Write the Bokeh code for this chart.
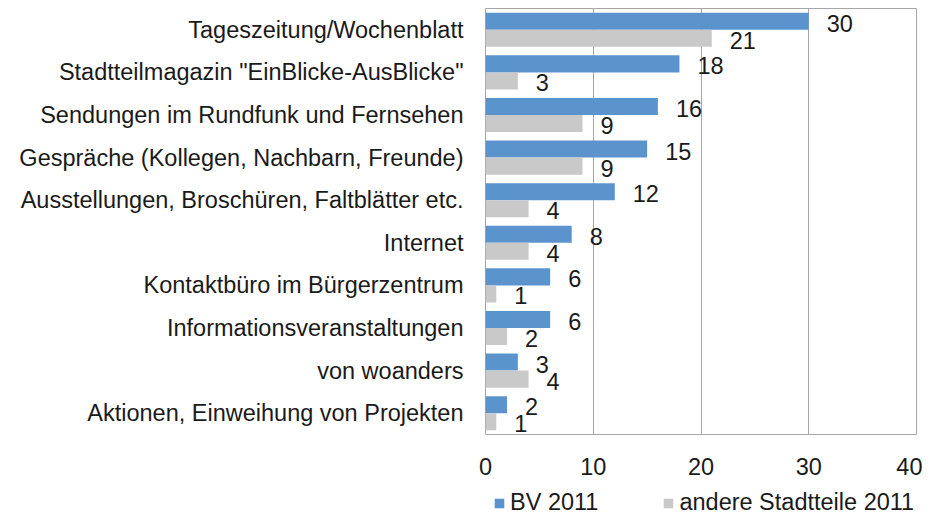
from bokeh.plotting import figure
from bokeh.layouts import column
from bokeh.models import FactorRange, Range1d, Legend, LegendItem, ColumnDataSource, FixedTicker
from bokeh.transform import dodge
from bokeh.embed import file_html
from bokeh.resources import INLINE
from bokeh.core.properties import value

categories = [
    "Tageszeitung/Wochenblatt",
    "Stadtteilmagazin \"EinBlicke-AusBlicke\"",
    "Sendungen im Rundfunk und Fernsehen",
    "Gespräche (Kollegen, Nachbarn, Freunde)",
    "Ausstellungen, Broschüren, Faltblätter etc.",
    "Internet",
    "Kontaktbüro im Bürgerzentrum",
    "Informationsveranstaltungen",
    "von woanders",
    "Aktionen, Einweihung von Projekten",
]
bv_2011 = [30, 18, 16, 15, 12, 8, 6, 6, 3, 2]
andere_2011 = [21, 3, 9, 9, 4, 4, 1, 2, 4, 1]
x_ticks = [0, 10, 20, 30, 40]
series_names = ["BV 2011", "andere Stadtteile 2011"]

BLUE = "#5B94CC"
GRAY = "#C9C9C9"
GRID = "#A6A6A6"
TEXT = "#1a1a1a"
FONT = "Liberation Sans"
FS = "23.5px"

src = ColumnDataSource(dict(
    cat=categories,
    bv=bv_2011,
    andere=andere_2011,
    bv_lbl=[str(v) for v in bv_2011],
    an_lbl=[str(v) for v in andere_2011],
))

p = figure(
    width=922, height=488,
    y_range=FactorRange(factors=categories[::-1]),
    x_range=Range1d(0, 40),
    output_backend="svg", toolbar_location=None,
    min_border_left=485, min_border_right=6, min_border_top=8, min_border_bottom=54,
)

r1 = p.hbar(y=dodge("cat", 0.2, range=p.y_range), left=0, right="bv", height=0.4,
            source=src, fill_color=BLUE, line_color=None)
r2 = p.hbar(y=dodge("cat", -0.2, range=p.y_range), left=0, right="andere", height=0.4,
            source=src, fill_color=GRAY, line_color=None)

p.text(x="bv", y=dodge("cat", 0.2, range=p.y_range), text="bv_lbl", source=src,
       x_offset=18, y_offset=2, text_align="left", text_baseline="middle",
       text_font_size=FS, text_color=TEXT, text_font=value(FONT))
p.text(x="andere", y=dodge("cat", -0.2, range=p.y_range), text="an_lbl", source=src,
       x_offset=18, y_offset=2, text_align="left", text_baseline="middle",
       text_font_size=FS, text_color=TEXT, text_font=value(FONT))

p.outline_line_color = GRID
p.outline_line_width = 1
p.ygrid.grid_line_color = None
p.xgrid.grid_line_color = GRID
p.xgrid.grid_line_width = 1
p.xaxis.ticker = FixedTicker(ticks=x_ticks)

for ax in (p.xaxis[0], p.yaxis[0]):
    ax.axis_line_color = None
    ax.major_tick_line_color = None
    ax.minor_tick_line_color = None
    ax.major_tick_in = 0
    ax.major_tick_out = 0
    ax.minor_tick_in = 0
    ax.minor_tick_out = 0
    ax.major_label_text_font = FONT
    ax.major_label_text_font_size = FS
    ax.major_label_text_color = TEXT

p.yaxis.major_label_standoff = 22
p.xaxis.major_label_standoff = 23

# separate strip for the legend below the chart (its frame aligns with the chart frame)
lf = figure(
    width=922, height=28,
    x_range=Range1d(0, 1), y_range=Range1d(0, 1),
    x_axis_type=None, y_axis_type=None,
    output_backend="svg", toolbar_location=None,
    min_border=0, outline_line_color=None,
)
lf.xgrid.visible = False
lf.ygrid.visible = False
# legend proxies: one zero-width bar each, so the swatch has a row to draw from
proxy = ColumnDataSource(dict(y=[0.5], right=[0]))
k1 = lf.hbar(y="y", left=0, right="right", height=0.4, source=proxy,
             fill_color=BLUE, line_color=None)
k2 = lf.hbar(y="y", left=0, right="right", height=0.4, source=proxy,
             fill_color=GRAY, line_color=None)

legend = Legend(
    items=[LegendItem(label=series_names[0], renderers=[k1], index=0),
           LegendItem(label=series_names[1], renderers=[k2], index=0)],
    orientation="horizontal",
    location=(8, 0),
    glyph_width=12, glyph_height=12,
    label_standoff=5, spacing=64,
    padding=0, margin=0,
    border_line_color=None, background_fill_alpha=0,
    label_text_font=FONT, label_text_font_size=FS, label_text_color=TEXT,
)
lf.add_layout(legend, "center")

layout = column(p, lf, spacing=0)

with open("out.html", "w") as f:
    f.write(file_html(layout, INLINE))
